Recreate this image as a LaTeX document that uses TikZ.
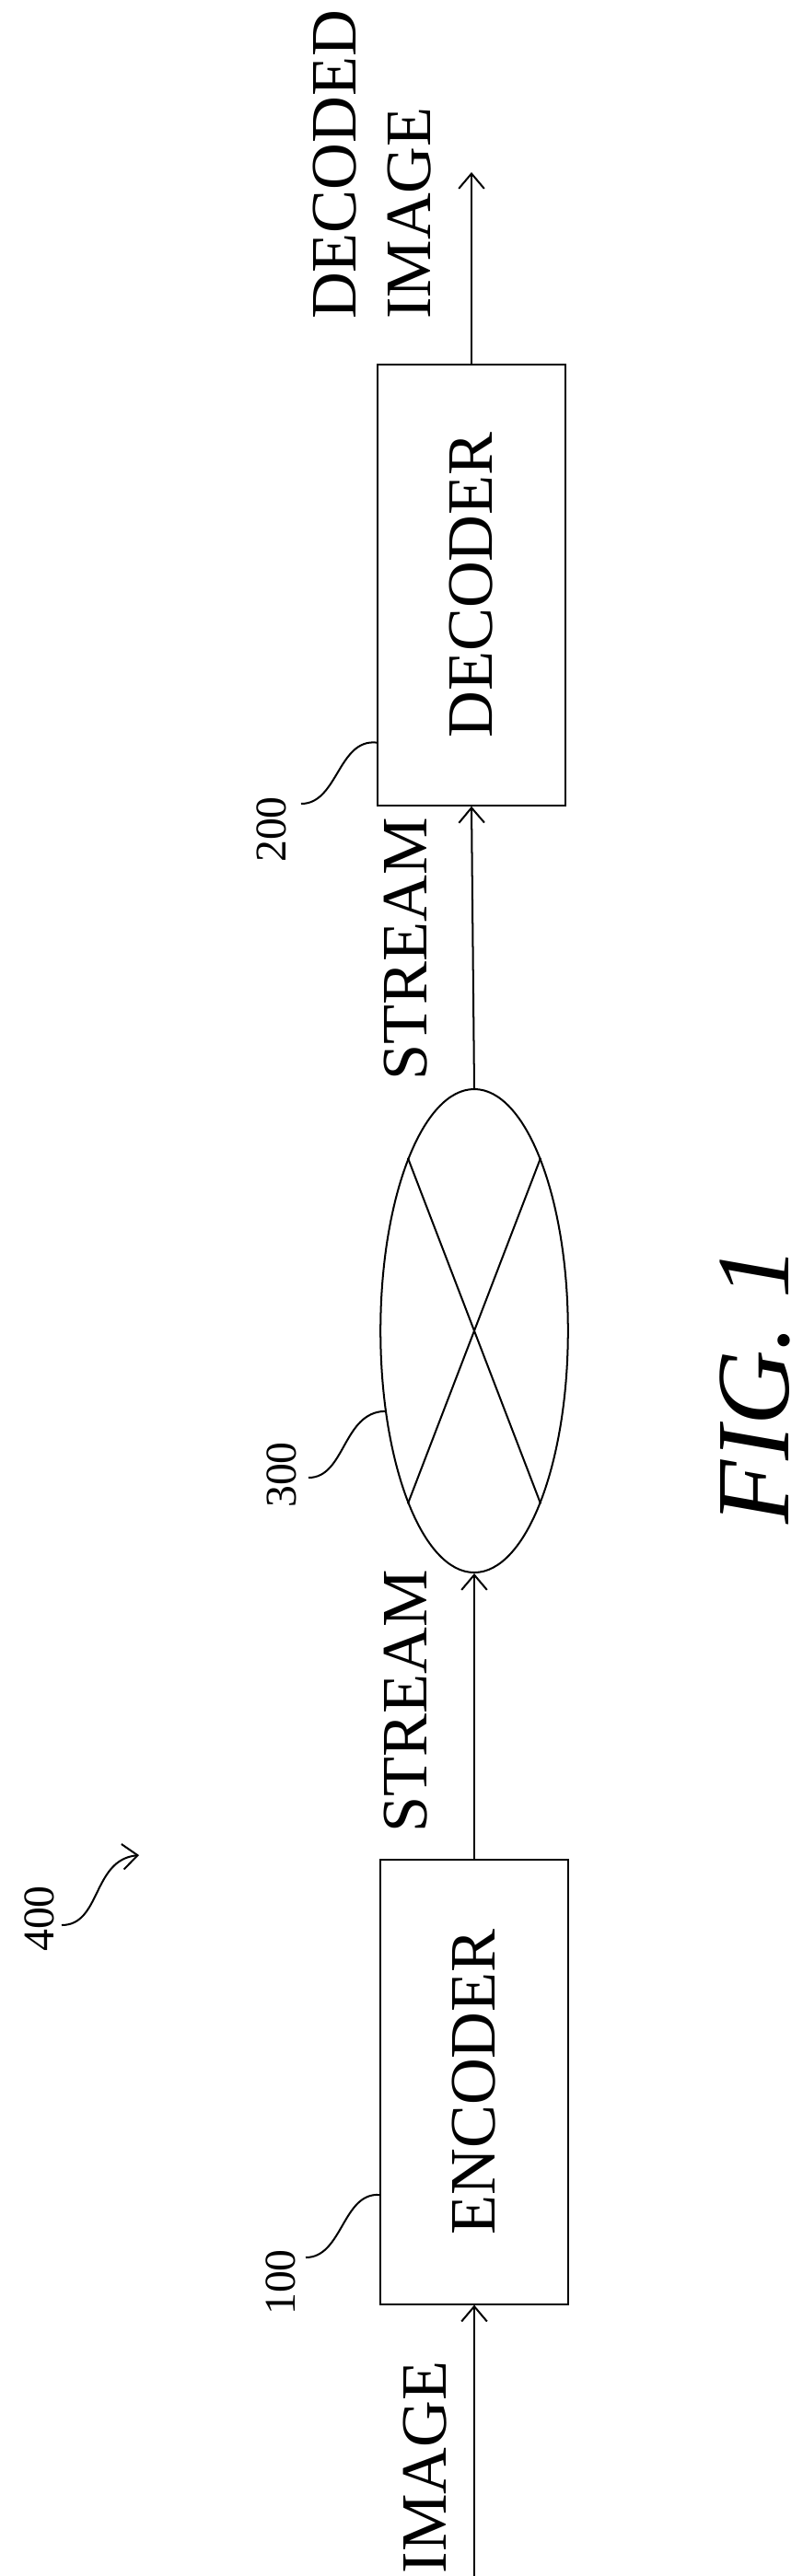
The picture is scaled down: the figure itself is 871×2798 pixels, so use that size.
\documentclass[tikz,border=0pt]{standalone}
\usepackage{fontspec}
\setmainfont{Liberation Serif}
\usetikzlibrary{shapes.geometric,arrows.meta}
\begin{document}
\begin{tikzpicture}[x=0.028cm,y=-0.028cm,line width=1.6pt,
    every node/.style={font=\fontsize{56}{64}\selectfont},
    unitbox/.style={draw,minimum width=13.5cm,minimum height=5.7cm,rotate=90},
    lbl/.style={rotate=90},
    ref/.style={rotate=90,font=\fontsize{38}{42}\selectfont},
    flow/.style={-{Straight Barb[length=13pt,width=22pt]}}]
    \useasboundingbox (0,0) rectangle (871,2798);
    \node[unitbox] (enc) at (515,2261.5) {ENCODER};
    \node[unitbox,minimum width=13.4cm] (dec) at (512,635.5) {DECODER};
    \node[draw,ellipse,minimum width=14.7cm,minimum height=5.7cm,inner sep=0pt,rotate=90] (net) at (515,1445.5) {};
    \draw (net.159) -- (net.339);
    \draw (net.201) -- (net.21);
    \coordinate (in) at (515,2798);
    \coordinate (out) at (512,187);
    \draw[flow] (in) -- (enc.west);
    \draw[flow] (enc.east) -- (net.west);
    \draw[flow] (net.east) -- (dec.west);
    \draw[flow] (dec.east) -- (out);
    \node[lbl] (limg) at (462,2680) {IMAGE};
    \node[lbl] (ls1) at (441,1848) {STREAM};
    \node[lbl] (ls2) at (441,1031) {STREAM};
    \node[lbl,align=left,anchor=west] (ldec) at (404,352) {DECODED\\IMAGE};
    \node[ref] (r100) at (305,2479) {100};
    \draw (332,2452) .. controls (372,2452) and (372,2381) .. (enc.140);
    \node[ref] (r200) at (295,901) {200};
    \draw (327,873) .. controls (367,873) and (367,802) .. (dec.149);
    \node[ref] (r300) at (306,1602) {300};
    \draw (335,1605) .. controls (375,1605) and (372,1534) .. (net.132);
    \node[ref] (r400) at (43,2084) {400};
    \coordinate (t400) at (151,2015);
    \draw[flow] (67,2091) .. controls (110,2091) and (100,2020) .. (t400);
    \node[rotate=90,font=\fontsize{90}{96}\selectfont\itshape] (fig) at (820,1505) {FIG. 1};
\end{tikzpicture}
\end{document}
